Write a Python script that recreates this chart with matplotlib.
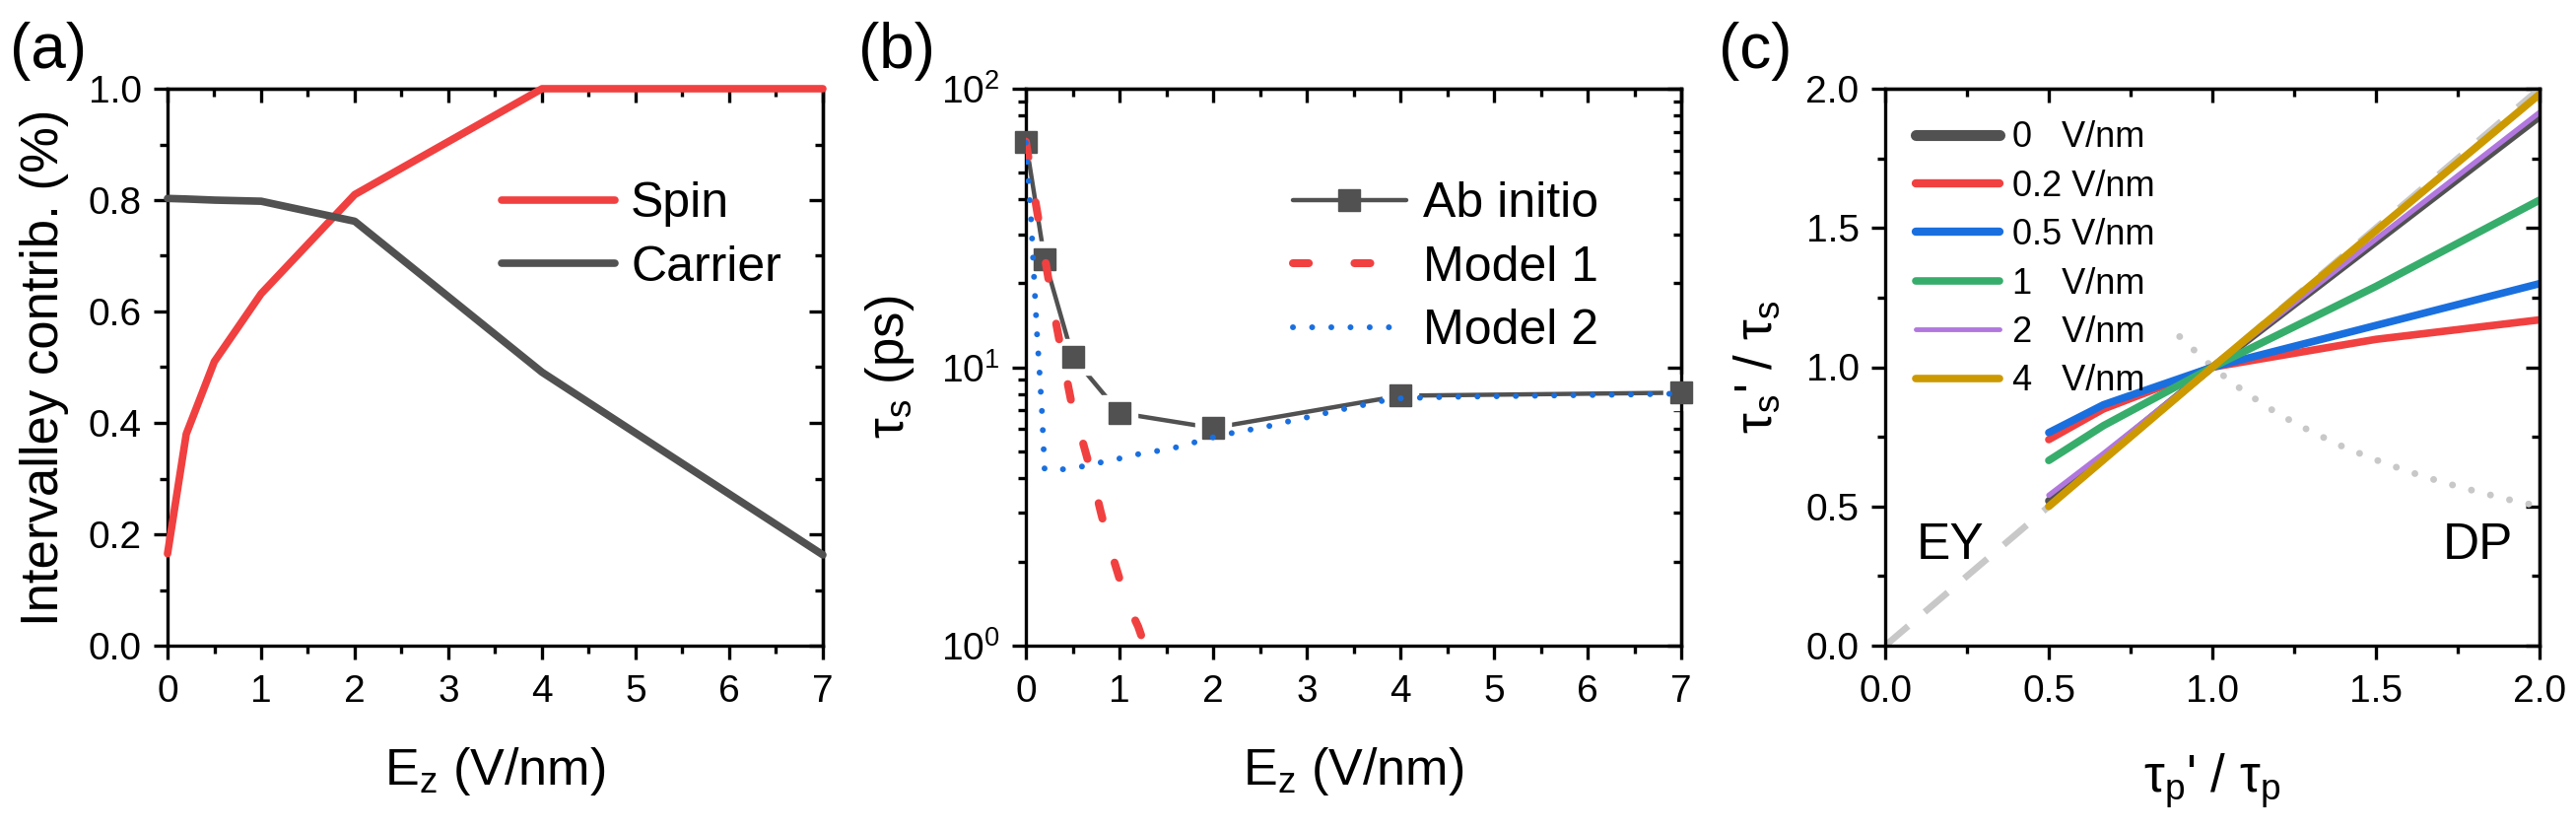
import matplotlib
matplotlib.use("Agg")
import matplotlib.pyplot as plt
import numpy as np
from matplotlib.ticker import MultipleLocator, FormatStrFormatter, LogLocator, NullFormatter, LogFormatterMathtext
from matplotlib.lines import Line2D

plt.rcParams['font.family'] = ['Liberation Sans', 'DejaVu Sans']
plt.rcParams['mathtext.fontset'] = 'custom'
plt.rcParams['mathtext.rm'] = 'Liberation Sans'
plt.rcParams['mathtext.it'] = 'Liberation Sans:italic'
plt.rcParams['mathtext.bf'] = 'Liberation Sans:bold'
plt.rcParams['mathtext.default'] = 'regular'

GRAY = '#515151'
RED = '#F14040'
BLUE = '#1A6FDF'
GREEN = '#37AD6B'
PURPLE = '#B177DE'
GOLD = '#CC9900'
LIGHT = '#C8C8C8'

# ---- panel (a) data
ez = [0, 0.2, 0.5, 1, 2, 4, 7]
spin_contrib = [0.165, 0.38, 0.51, 0.632, 0.81, 1.0, 1.0]
carrier_contrib = [0.803, 0.802, 0.80, 0.798, 0.762, 0.491, 0.163]

# ---- panel (b) data
tau_abinitio = [64.5, 24.4, 10.9, 6.85, 6.05, 7.9, 8.1]
m1_x = [0, 0.1, 0.2, 0.3, 0.4, 0.5, 0.6, 0.7, 0.8, 0.9, 1.0, 1.1, 1.2, 1.27]
m1_y = [64.6, 39.8, 25.1, 15.8, 10.5, 7.08, 5.5, 4.17, 3.02, 2.24, 1.74, 1.38, 1.17, 1.0]
m2_x = [0, 0.014, 0.028, 0.042, 0.056, 0.077, 0.098, 0.12, 0.147, 0.172, 0.2,
        0.4, 0.6, 0.8, 1.0, 1.2, 1.4, 1.6, 1.8, 2.0, 2.2, 2.4, 2.6, 2.8, 3.0,
        3.2, 3.4, 3.6, 3.8, 4.0, 4.5, 5.0, 5.5, 6.0, 6.5, 7.0]
m2_y = [64, 54.6, 46.5, 39.6, 33.8, 24.6, 17.9, 13.0, 9.5, 6.9, 4.3,
        4.3, 4.4, 4.55, 4.7, 4.87, 5.0, 5.15, 5.37, 5.6, 5.8, 5.97, 6.15, 6.38, 6.6,
        6.84, 7.08, 7.31, 7.56, 7.73, 7.82, 7.86, 7.9, 7.94, 7.98, 8.04]

# ---- panel (c) data
ratio_p = [0.5, 0.667, 1.0, 1.5, 2.0]
ratio_s = {
    '0   V/nm': [0.52, 0.68, 1.0, 1.45, 1.90],
    '0.2 V/nm': [0.74, 0.85, 1.0, 1.10, 1.17],
    '0.5 V/nm': [0.765, 0.865, 1.0, 1.15, 1.30],
    '1   V/nm': [0.665, 0.79, 1.0, 1.29, 1.60],
    '2   V/nm': [0.54, 0.69, 1.0, 1.46, 1.915],
    '4   V/nm': [0.50, 0.667, 1.0, 1.49, 1.98],
}
field_colors = [GRAY, RED, BLUE, GREEN, PURPLE, GOLD]
field_lw = [5.5, 5.5, 5.5, 5.5, 3.8, 5.5]
legend_lw = [8, 6, 6, 5.5, 3.5, 5.5]
ey_line_x = [0, 2]
ey_line_y = [0, 2]
dp_x = [0.9, 1.0, 1.1, 1.2, 1.3, 1.4, 1.5, 1.6, 1.7, 1.8, 1.9, 2.0]
dp_y = [1.11, 1.0, 0.91, 0.833, 0.77, 0.714, 0.667, 0.625, 0.588, 0.556, 0.526, 0.5]

W, H = 2614, 842
fig = plt.figure(figsize=(W / 100, H / 100), dpi=100)
top, bot = 90, 655
axA = fig.add_axes([170 / W, 1 - bot / H, 665 / W, (bot - top) / H])
axB = fig.add_axes([1041 / W, 1 - bot / H, 665 / W, (bot - top) / H])
axC = fig.add_axes([1913 / W, 1 - bot / H, 664 / W, (bot - top) / H])

SW = 2.4


def style(ax, xmaj, xmin, ymaj, ymin, log=False):
    for s in ax.spines.values():
        s.set_linewidth(SW)
    ax.tick_params(which='both', direction='out', top=False, right=False, width=SW)
    ax.tick_params(which='major', length=10)
    ax.tick_params(which='minor', length=5.5)
    ax.tick_params(axis='x', labelsize=28, pad=11)
    ax.tick_params(axis='y', labelsize=28, pad=9)
    ax.xaxis.set_major_locator(MultipleLocator(xmaj))
    ax.xaxis.set_minor_locator(MultipleLocator(xmin))
    tx = ax.secondary_xaxis('top')
    tx.xaxis.set_major_locator(MultipleLocator(xmaj))
    tx.xaxis.set_minor_locator(MultipleLocator(xmin))
    tx.tick_params(which='both', direction='in', labeltop=False, width=SW)
    tx.tick_params(which='major', length=10)
    tx.tick_params(which='minor', length=5.5)
    tx.spines['top'].set_linewidth(SW)
    ry = ax.secondary_yaxis('right')
    if log:
        for a in (ax, ry):
            a.yaxis.set_major_locator(LogLocator(base=10))
            a.yaxis.set_minor_locator(LogLocator(base=10, subs=np.arange(2, 10)))
        ax.yaxis.set_major_formatter(LogFormatterMathtext())
        ax.yaxis.set_minor_formatter(NullFormatter())
    else:
        for a in (ax, ry):
            a.yaxis.set_major_locator(MultipleLocator(ymaj))
            a.yaxis.set_minor_locator(MultipleLocator(ymin))
    ry.tick_params(which='both', direction='in', labelright=False, width=SW)
    ry.tick_params(which='major', length=10)
    ry.tick_params(which='minor', length=5.5)
    ry.spines['right'].set_linewidth(SW)


# ---------------- (a)
axA.plot(ez, spin_contrib, color=RED, lw=5.5, solid_capstyle='round', label='Spin',
         clip_on=False, zorder=3)
axA.plot(ez, carrier_contrib, color=GRAY, lw=5.5, solid_capstyle='round', label='Carrier',
         clip_on=False, zorder=3)
axA.set_xlim(0, 7)
axA.set_ylim(0, 1.0)
style(axA, 1, 0.5, 0.2, 0.1)
axA.xaxis.set_major_formatter(FormatStrFormatter('%d'))
axA.yaxis.set_major_formatter(FormatStrFormatter('%.1f'))
axA.set_xlabel('E$_z$ (V/nm)', fontsize=37.5, labelpad=26)
axA.set_ylabel('Intervalley contrib. (%)', fontsize=38, labelpad=14)
axA.legend(loc='upper left', bbox_to_anchor=(0.51, 0.833), frameon=False, fontsize=36,
           borderpad=0, borderaxespad=0, handlelength=2.3, handletextpad=0.32,
           labelspacing=0.37)

# ---------------- (b)
axB.plot(ez, tau_abinitio, color=GRAY, lw=3.2, solid_capstyle='round', zorder=2)
axB.plot(ez, tau_abinitio, ls='none', marker='s', ms=26, color='white', mec='white',
         zorder=2.1, clip_on=False)
axB.plot(ez, tau_abinitio, ls='none', marker='s', ms=15.8, color=GRAY, mec=GRAY,
         zorder=3, clip_on=False)
axB.plot(m1_x, m1_y, color=RED, lw=5.8, ls=(0, (2.0, 5.75)), dash_capstyle='round',
         zorder=3.2)
axB.plot(m2_x, m2_y, color=BLUE, lw=4.3, ls=(0, (0.01, 3.25)), dash_capstyle='round',
         zorder=3.3)
axB.set_yscale('log')
axB.set_xlim(0, 7)
axB.set_ylim(1, 100)
style(axB, 1, 0.5, None, None, log=True)
axB.xaxis.set_major_formatter(FormatStrFormatter('%d'))
axB.set_xlabel('E$_z$ (V/nm)', fontsize=37.5, labelpad=26)
axB.set_ylabel('τ$_s$ (ps)', fontsize=38, labelpad=18)
hB = [Line2D([], [], color=GRAY, lw=3.2, marker='s', ms=15.8, solid_capstyle='round'),
      Line2D([], [], color=RED, lw=5.8, ls=(0, (2.0, 5.75)), dash_capstyle='round'),
      Line2D([], [], color=BLUE, lw=4.3, ls=(0, (0.01, 3.25)), dash_capstyle='round')]
axB.legend(hB, ['Ab initio', 'Model 1', 'Model 2'], loc='upper left',
           bbox_to_anchor=(0.4075, 0.833), frameon=False, fontsize=36, borderpad=0,
           borderaxespad=0, handlelength=2.3, handletextpad=0.34, labelspacing=0.37)

# ---------------- (c)
axC.plot(ey_line_x, ey_line_y, color=LIGHT, lw=4.8, ls=(0, (4.6, 3.3)), zorder=1.5)
axC.plot(dp_x, dp_y, color=LIGHT, lw=5, ls=(0, (0.01, 2.86)), dash_capstyle='round',
         zorder=1.5)
for (lab, vals), c, w in zip(ratio_s.items(), field_colors, field_lw):
    axC.plot(ratio_p, vals, color=c, lw=w, solid_capstyle='round', label=lab, zorder=2)
axC.set_xlim(0, 2)
axC.set_ylim(0, 2)
style(axC, 0.5, 0.25, 0.5, 0.25)
axC.xaxis.set_major_formatter(FormatStrFormatter('%.1f'))
axC.yaxis.set_major_formatter(FormatStrFormatter('%.1f'))
axC.set_xlabel("τ$_p$' / τ$_p$", fontsize=38, labelpad=30)
axC.set_ylabel("τ$_s$' / τ$_s$", fontsize=38, labelpad=17)
legC = axC.legend(loc='upper left', bbox_to_anchor=(0.047, 0.943), frameon=False,
                  fontsize=26, borderpad=0, borderaxespad=0, handlelength=2.36,
                  handletextpad=0.36, labelspacing=0.40)
for ln, w in zip(legC.get_lines(), legend_lw):
    ln.set_linewidth(w)
axC.text(0.095, 0.31, 'EY', fontsize=37, ha='left', va='baseline')
axC.text(1.92, 0.31, 'DP', fontsize=37, ha='right', va='baseline')

# panel letters
fig.text(10 / W, 1 - 22 / H, '(a)', fontsize=46, ha='left', va='top')
fig.text(871 / W, 1 - 22 / H, '(b)', fontsize=46, ha='left', va='top')
fig.text(1744 / W, 1 - 22 / H, '(c)', fontsize=46, ha='left', va='top')

fig.savefig('out.png', dpi=100)
